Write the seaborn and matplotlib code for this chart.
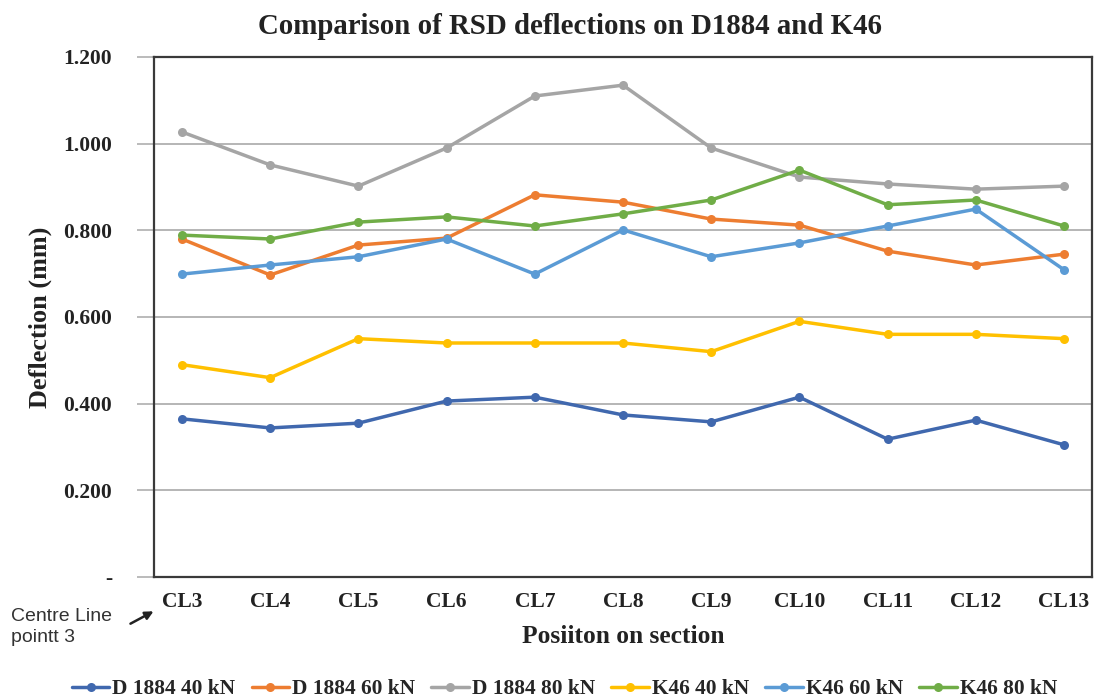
import numpy as np
import pandas as pd
import matplotlib
matplotlib.use("Agg")
import matplotlib.pyplot as plt
import seaborn as sns

positions = ["CL3", "CL4", "CL5", "CL6", "CL7", "CL8", "CL9", "CL10", "CL11", "CL12", "CL13"]
d1884_40 = [0.365, 0.344, 0.355, 0.406, 0.415, 0.374, 0.358, 0.415, 0.318, 0.362, 0.305]
d1884_60 = [0.780, 0.697, 0.766, 0.782, 0.882, 0.865, 0.826, 0.812, 0.752, 0.720, 0.745]
d1884_80 = [1.027, 0.951, 0.902, 0.990, 1.110, 1.135, 0.990, 0.923, 0.907, 0.895, 0.902]
k46_40 = [0.490, 0.460, 0.550, 0.540, 0.540, 0.540, 0.520, 0.590, 0.560, 0.560, 0.550]
k46_60 = [0.699, 0.720, 0.739, 0.780, 0.699, 0.801, 0.739, 0.771, 0.810, 0.849, 0.709]
k46_80 = [0.789, 0.780, 0.819, 0.831, 0.810, 0.838, 0.870, 0.939, 0.859, 0.870, 0.810]
series_names = ["D 1884 40 kN", "D 1884 60 kN", "D 1884 80 kN", "K46 40 kN", "K46 60 kN", "K46 80 kN"]
series_values = [d1884_40, d1884_60, d1884_80, k46_40, k46_60, k46_80]
colors = ["#4068AE", "#ED7D31", "#A5A5A5", "#FFC000", "#5B9BD5", "#70AD47"]
y_ticks = [0.0, 0.2, 0.4, 0.6, 0.8, 1.0, 1.2]
y_tick_labels = ["-", "0.200", "0.400", "0.600", "0.800", "1.000", "1.200"]

rows = []
for name, vals in zip(series_names, series_values):
    for i, (p, v) in enumerate(zip(positions, vals)):
        rows.append({"series": name, "pos": i, "label": p, "value": v})
df = pd.DataFrame(rows)

sns.set_style("white")
serif = ["Liberation Serif", "DejaVu Serif"]
plt.rcParams["font.family"] = serif

W, H = 1094, 700
fig = plt.figure(figsize=(W / 100, H / 100), dpi=100)
ax_l, ax_r, ax_t, ax_b = 154, 1092, 57, 577
ax = fig.add_axes([ax_l / W, 1 - ax_b / H, (ax_r - ax_l) / W, (ax_b - ax_t) / H])

sns.lineplot(data=df, x="pos", y="value", hue="series", hue_order=series_names,
             palette=colors, marker="o", markersize=6.5, markeredgewidth=0,
             linewidth=2.5, ax=ax, legend=True)

ax.set_xlim(-0.317, 10.317)
ax.set_ylim(0, 1.2)
ax.set_xticks(range(len(positions)))
ax.set_xticklabels(positions, fontsize=15.5, fontweight="bold", color="#222222")
ax.set_yticks(y_ticks)
ax.set_yticklabels(y_tick_labels, fontsize=15.5, fontweight="bold", color="#222222")
ax.tick_params(axis="x", length=0, pad=11, bottom=False)
ax.tick_params(axis="y", left=True, length=12, color="#B5B5B5", width=1.3, pad=18)

for y in y_ticks[1:-1]:
    ax.axhline(y, color="#B0B0B0", linewidth=1.3, zorder=0)

for s in ax.spines.values():
    s.set_visible(True)
    s.set_color("#3A3A3A")
    s.set_linewidth(1.6)

ax.set_xlabel("Posiiton on section", fontsize=18.4, fontweight="bold", color="#222222", labelpad=9)
ax.set_ylabel("Deflection (mm)", fontsize=18.9, fontweight="bold", color="#222222", labelpad=8)
fig.text(570 / W, 1 - 27 / H, "Comparison of RSD deflections on D1884 and K46", ha="center", va="center",
         fontsize=20.8, fontweight="bold", color="#222222")

fig.text(11 / W, 1 - 627 / H, "Centre Line\npointt 3", ha="left", va="center", fontsize=14,
         family=["Liberation Sans", "DejaVu Sans"], color="#333333", linespacing=1.35)
ax.annotate("", xy=(156, H - 610), xycoords="figure pixels",
            xytext=(128, H - 625), textcoords="figure pixels",
            arrowprops=dict(arrowstyle="-|>", color="#222222", lw=1.8, mutation_scale=12))

handles, labels = ax.get_legend_handles_labels()
ax.legend(handles, labels, loc="center", bbox_to_anchor=(564.5 / W, 1 - 689 / H),
          bbox_transform=fig.transFigure,
          ncol=6, frameon=False, prop={"family": serif, "weight": "bold", "size": 15.4},
          handlelength=1.75, handletextpad=0.15, columnspacing=0.75)

fig.savefig("out.png", dpi=100)
